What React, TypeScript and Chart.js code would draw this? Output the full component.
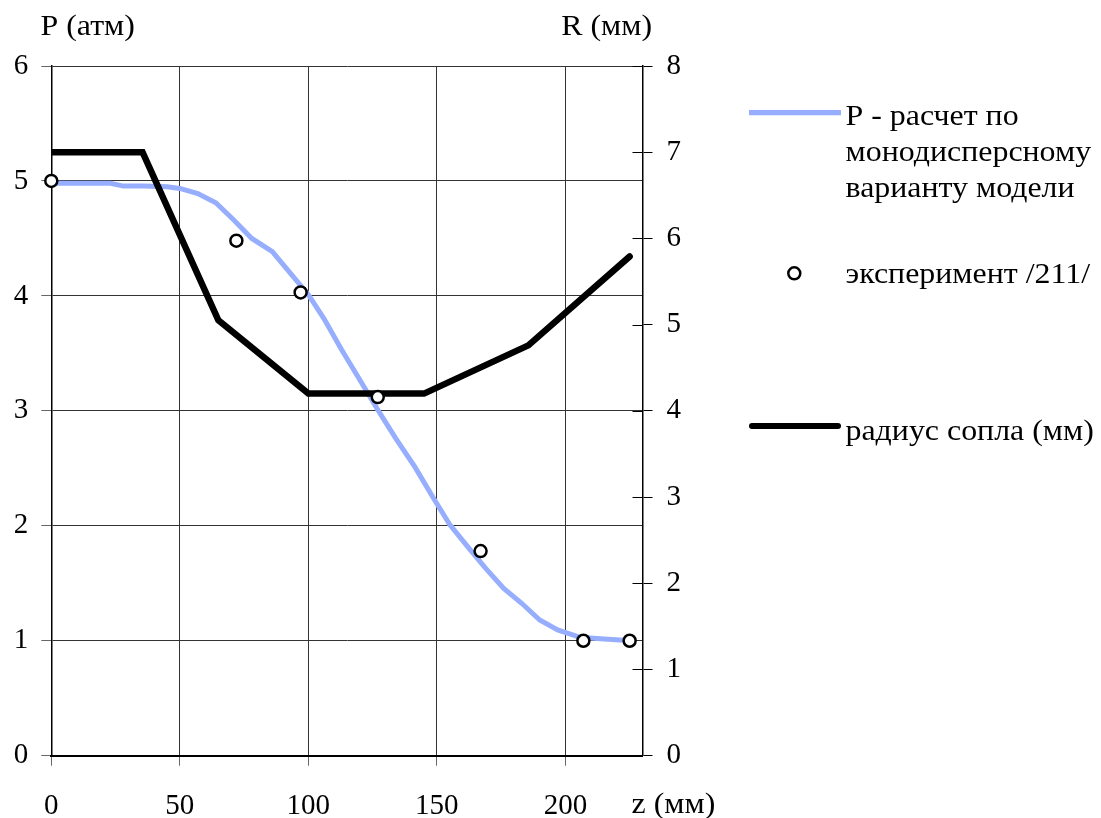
import React, { useEffect, useRef } from "react";
import { Chart, registerables } from "chart.js";

Chart.register(...registerables);

// Calculated pressure P (атм) vs z (мм)
const calcZ = [0, 10, 23, 28, 36, 45, 50, 57, 64, 71, 78, 86, 92, 100, 106, 113, 120, 127, 134, 141.5, 148.7, 155, 163, 169, 176, 183, 190, 197, 205.7, 215, 226];
const calcP = [4.98, 4.98, 4.98, 4.955, 4.955, 4.95, 4.935, 4.89, 4.81, 4.66, 4.5, 4.385, 4.225, 4.01, 3.805, 3.53, 3.27, 3.01, 2.76, 2.51, 2.24, 2.01, 1.79, 1.63, 1.456, 1.326, 1.18, 1.094, 1.03, 1.015, 1.0];

// Experiment /211/
const expZ = [0, 72, 97, 127, 167, 207, 225];
const expP = [5.0, 4.48, 4.03, 3.12, 1.78, 1.0, 1.0];

// Nozzle radius R (мм)
const radZ = [0, 35.5, 65, 100, 145, 185.6, 225];
const radR = [7, 7, 5.05, 4.2, 4.2, 4.76, 5.79];

const xTicks = [0, 50, 100, 150, 200];
const pTicks = [0, 1, 2, 3, 4, 5, 6];
const rTicks = [0, 1, 2, 3, 4, 5, 6, 7, 8];

const legendCalcLines = ["P - расчет по", "монодисперсному", "варианту модели"];
const legendExp = "эксперимент /211/";
const legendRad = "радиус сопла (мм)";
const titleP = "P (атм)";
const titleR = "R (мм)";
const titleZ = "z (мм)";

const FONT = "'Liberation Serif', 'Times New Roman', serif";
const FS = 29;
const BLUE = "#96aefd";
const STRETCH = 1.1;

function stretchedText(ctx: CanvasRenderingContext2D, text: string, x: number, y: number, align: CanvasTextAlign) {
  ctx.save();
  ctx.translate(x, y);
  ctx.scale(STRETCH, 1);
  ctx.textAlign = align;
  ctx.fillText(text, 0, 0);
  ctx.restore();
}

const overlayPlugin = {
  id: "overlay",
  afterDraw(chart: any) {
    const ctx = chart.ctx as CanvasRenderingContext2D;
    const area = chart.chartArea;
    const y1 = chart.scales.y1;
    ctx.save();
    // inner ticks on right axis
    ctx.strokeStyle = "#000";
    ctx.lineWidth = 1;
    rTicks.forEach((v) => {
      const py = Math.round(y1.getPixelForValue(v)) + 0.5;
      ctx.beginPath();
      ctx.moveTo(area.right - 10, py);
      ctx.lineTo(area.right, py);
      ctx.stroke();
    });

    ctx.fillStyle = "#000";
    ctx.font = `${FS}px ${FONT}`;
    ctx.textBaseline = "alphabetic";
    stretchedText(ctx, titleP, 40.5, 35, "left");
    stretchedText(ctx, titleR, 652, 35, "right");
    stretchedText(ctx, titleZ, 631.5, 813, "left");

    // legend: calc line
    ctx.strokeStyle = BLUE;
    ctx.lineWidth = 5.3;
    ctx.lineCap = "butt";
    ctx.beginPath();
    ctx.moveTo(749, 112.7);
    ctx.lineTo(841, 112.7);
    ctx.stroke();
    const baselines = [125, 160.7, 196.7];
    legendCalcLines.forEach((t, i) => stretchedText(ctx, t, 845.5, baselines[i], "left"));

    // legend: experiment
    ctx.strokeStyle = "#000";
    ctx.lineWidth = 2.5;
    ctx.fillStyle = "#fff";
    ctx.beginPath();
    ctx.arc(794.3, 273.3, 6, 0, Math.PI * 2);
    ctx.fill();
    ctx.stroke();
    ctx.fillStyle = "#000";
    stretchedText(ctx, legendExp, 845.5, 283.3, "left");

    // legend: radius
    ctx.lineWidth = 6;
    ctx.lineCap = "round";
    ctx.beginPath();
    ctx.moveTo(752, 426);
    ctx.lineTo(838, 426);
    ctx.stroke();
    stretchedText(ctx, legendRad, 845.5, 440, "left");
    ctx.restore();
  },
};

export default function App() {
  const ref = useRef<HTMLCanvasElement>(null);
  useEffect(() => {
    if (!ref.current) return;
    const chart = new Chart(ref.current, {
      type: "line",
      data: {
        datasets: [
          {
            label: "эксперимент",
            data: expZ.map((z, i) => ({ x: z, y: expP[i] })),
            showLine: false,
            pointRadius: 6,
            pointBorderWidth: 2.5,
            pointBackgroundColor: "#fff",
            pointBorderColor: "#000",
            borderColor: "#000",
            clip: false,
            xAxisID: "x",
            yAxisID: "y",
            order: 0,
          },
          {
            label: "радиус",
            data: radZ.map((z, i) => ({ x: z, y: radR[i] })),
            borderColor: "#000",
            borderWidth: 6.5,
            pointRadius: 0,
            tension: 0,
            borderCapStyle: "round",
            borderJoinStyle: "miter",
            xAxisID: "x",
            yAxisID: "y1",
            order: 1,
          },
          {
            label: "P",
            data: calcZ.map((z, i) => ({ x: z, y: calcP[i] })),
            borderColor: BLUE,
            borderWidth: 5,
            pointRadius: 0,
            tension: 0,
            xAxisID: "x",
            yAxisID: "y",
            order: 2,
          },
        ],
      },
      options: {
        animation: false,
        responsive: false,
        maintainAspectRatio: false,
        layout: { padding: { top: 66, left: 0, right: 0, bottom: 0 } },
        plugins: { legend: { display: false }, tooltip: { enabled: false } },
        scales: {
          x: {
            type: "linear",
            min: 0,
            max: 230,
            afterFit: (s: any) => {
              s.height = 62.3;
            },
            afterBuildTicks: (s: any) => {
              s.ticks = xTicks.map((v) => ({ value: v }));
            },
            ticks: {
              font: { family: FONT, size: FS },
              color: "#000",
              padding: 23,
              maxRotation: 0,
            },
            grid: { color: "#333", lineWidth: 1, tickLength: 10, tickColor: "#666" },
            border: { color: "#000", width: 2 },
          },
          y: {
            type: "linear",
            position: "left",
            min: 0,
            max: 6,
            afterFit: (s: any) => {
              s.width = 51.3;
            },
            afterBuildTicks: (s: any) => {
              s.ticks = pTicks.map((v) => ({ value: v }));
            },
            ticks: { font: { family: FONT, size: FS }, color: "#000", padding: 13 },
            grid: { color: "#333", lineWidth: 1, tickLength: 10, tickColor: "#666" },
            border: { color: "#000", width: 1.5 },
          },
          y1: {
            type: "linear",
            position: "right",
            min: 0,
            max: 8,
            afterFit: (s: any) => {
              s.width = 1101 - 642.5;
            },
            afterBuildTicks: (s: any) => {
              s.ticks = rTicks.map((v) => ({ value: v }));
            },
            ticks: { font: { family: FONT, size: FS }, color: "#000", padding: 14 },
            grid: { drawOnChartArea: false, tickLength: 10, color: "#000", lineWidth: 1 },
            border: { color: "#000", width: 1.5 },
          },
        },
      },
      plugins: [overlayPlugin],
    });
    return () => chart.destroy();
  }, []);
  return (
    <div style={{ position: "fixed", left: 0, top: 0, width: 1101, height: 818, background: "#fff" }}>
      <canvas ref={ref} width={1101} height={818} style={{ display: "block" }} />
    </div>
  );
}
